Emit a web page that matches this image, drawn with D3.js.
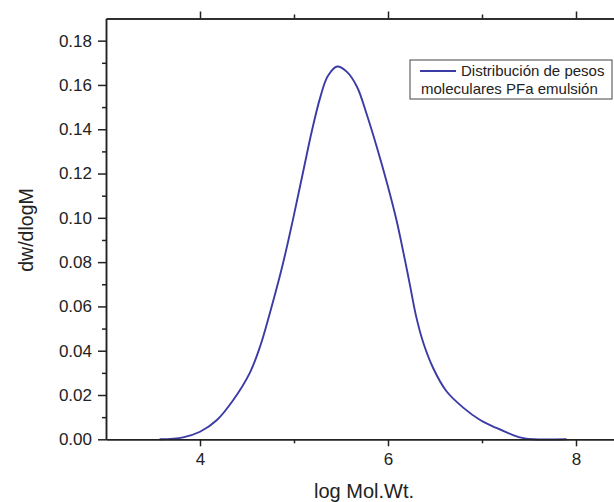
<!DOCTYPE html>
<html>
<head>
<meta charset="utf-8">
<script src="https://cdn.jsdelivr.net/npm/d3@7"></script>
<style>
  body { margin: 0; background: #fff; }
  svg { display: block; font-family: "Liberation Sans", Arial, sans-serif; }
</style>
</head>
<body>
<svg id="chart" width="614" height="502"></svg>
<script>
"use strict";

// molecular weight distribution
const logMW = [3.57, 3.82, 4.00, 4.18, 4.35, 4.53, 4.64, 4.74, 4.85, 4.92,
               4.99, 5.10, 5.19, 5.28, 5.36, 5.46, 5.56, 5.67, 5.77, 5.88,
               5.99, 6.09, 6.18, 6.23, 6.30, 6.38, 6.48, 6.62, 6.80, 6.98,
               7.16, 7.33, 7.44, 7.55, 7.90];
const dwdlogM = [0, 0.0009, 0.0034, 0.0087, 0.0175, 0.0300, 0.0420, 0.0565, 0.0738, 0.0861,
                 0.0994, 0.1214, 0.1392, 0.1545, 0.1640, 0.1683, 0.1660, 0.1592, 0.1472, 0.1321,
                 0.1156, 0.0990, 0.0810, 0.0704, 0.0554, 0.0430, 0.0322, 0.0218, 0.0143, 0.0087,
                 0.0050, 0.0019, 0.0005, 0, 0];

const xMajor = [4, 6, 8];
const xMinor = [5, 7];
const yMajor = [0, 0.02, 0.04, 0.06, 0.08, 0.10, 0.12, 0.14, 0.16, 0.18];
const yMinor = [0.01, 0.03, 0.05, 0.07, 0.09, 0.11, 0.13, 0.15, 0.17];

const legendLines = ["Distribución de pesos", "moleculares PFa emulsión"];

const margin = { top: 18.5, left: 106, bottom: 62.7 };
const width = 614, height = 502;
const font = "'Liberation Sans', Arial, sans-serif";

const x = d3.scaleLinear().domain([3, 8.45]).range([margin.left, margin.left + 5.45 * 94]);
const y = d3.scaleLinear().domain([0, 0.19]).range([height - margin.bottom, margin.top]);

const svg = d3.select("#chart");
const axisColor = "#222";
const lineColor = "#3b3ba6";

// curve
const line = d3.line()
  .x((d, i) => x(logMW[i]))
  .y(d => y(d))
  .curve(d3.curveCatmullRom.alpha(0.5));

svg.append("path")
  .datum(dwdlogM)
  .attr("d", line)
  .attr("fill", "none")
  .attr("stroke", lineColor)
  .attr("stroke-width", 1.9);

// axes
function styleAxis(g) {
  g.attr("font-family", font).attr("font-size", 17);
  g.selectAll("path").attr("stroke", axisColor).attr("stroke-width", 1.5);
  g.selectAll("line").attr("stroke", axisColor).attr("stroke-width", 1.5);
  g.selectAll("text").attr("fill", axisColor);
}

const yBottom = y(0);

// bottom
svg.append("g")
  .attr("transform", `translate(0,${yBottom})`)
  .call(d3.axisBottom(x).tickValues(xMajor).tickSize(7).tickSizeOuter(0).tickPadding(7).tickFormat(d3.format("d")))
  .call(styleAxis);
svg.append("g")
  .attr("transform", `translate(0,${yBottom})`)
  .call(d3.axisBottom(x).tickValues(xMinor).tickSize(4).tickSizeOuter(0).tickFormat(""))
  .call(styleAxis);

// top
svg.append("g")
  .attr("transform", `translate(0,${margin.top})`)
  .call(d3.axisTop(x).tickValues(xMajor).tickSize(7).tickSizeOuter(0).tickFormat(""))
  .call(styleAxis);
svg.append("g")
  .attr("transform", `translate(0,${margin.top})`)
  .call(d3.axisTop(x).tickValues(xMinor).tickSize(4).tickSizeOuter(0).tickFormat(""))
  .call(styleAxis);

// left
svg.append("g")
  .attr("transform", `translate(${margin.left},0)`)
  .call(d3.axisLeft(y).tickValues(yMajor).tickSize(8).tickSizeOuter(0).tickPadding(6).tickFormat(d3.format(".2f")))
  .call(styleAxis);
svg.append("g")
  .attr("transform", `translate(${margin.left},0)`)
  .call(d3.axisLeft(y).tickValues(yMinor).tickSize(4).tickSizeOuter(0).tickFormat(""))
  .call(styleAxis);

// axis titles
svg.append("text")
  .attr("x", 364).attr("y", 498)
  .attr("text-anchor", "middle")
  .attr("font-size", 20)
  .attr("fill", axisColor)
  .text("log Mol.Wt.");

svg.append("text")
  .attr("transform", `translate(33,230) rotate(-90)`)
  .attr("text-anchor", "middle")
  .attr("font-size", 19.5)
  .attr("fill", axisColor)
  .text("dw/dlogM");

// legend
const lg = svg.append("g").attr("transform", "translate(410,60)");
lg.append("rect")
  .attr("width", 202).attr("height", 39)
  .attr("fill", "#fff")
  .attr("stroke", "#444")
  .attr("stroke-width", 1);
lg.append("line")
  .attr("x1", 10).attr("x2", 46)
  .attr("y1", 11).attr("y2", 11)
  .attr("stroke", lineColor)
  .attr("stroke-width", 1.9);
lg.append("text")
  .attr("x", 51).attr("y", 16)
  .attr("font-size", 15)
  .attr("fill", axisColor)
  .text(legendLines[0]);
lg.append("text")
  .attr("x", 11).attr("y", 33.5)
  .attr("font-size", 15)
  .attr("fill", axisColor)
  .text(legendLines[1]);
</script>
</body>
</html>
